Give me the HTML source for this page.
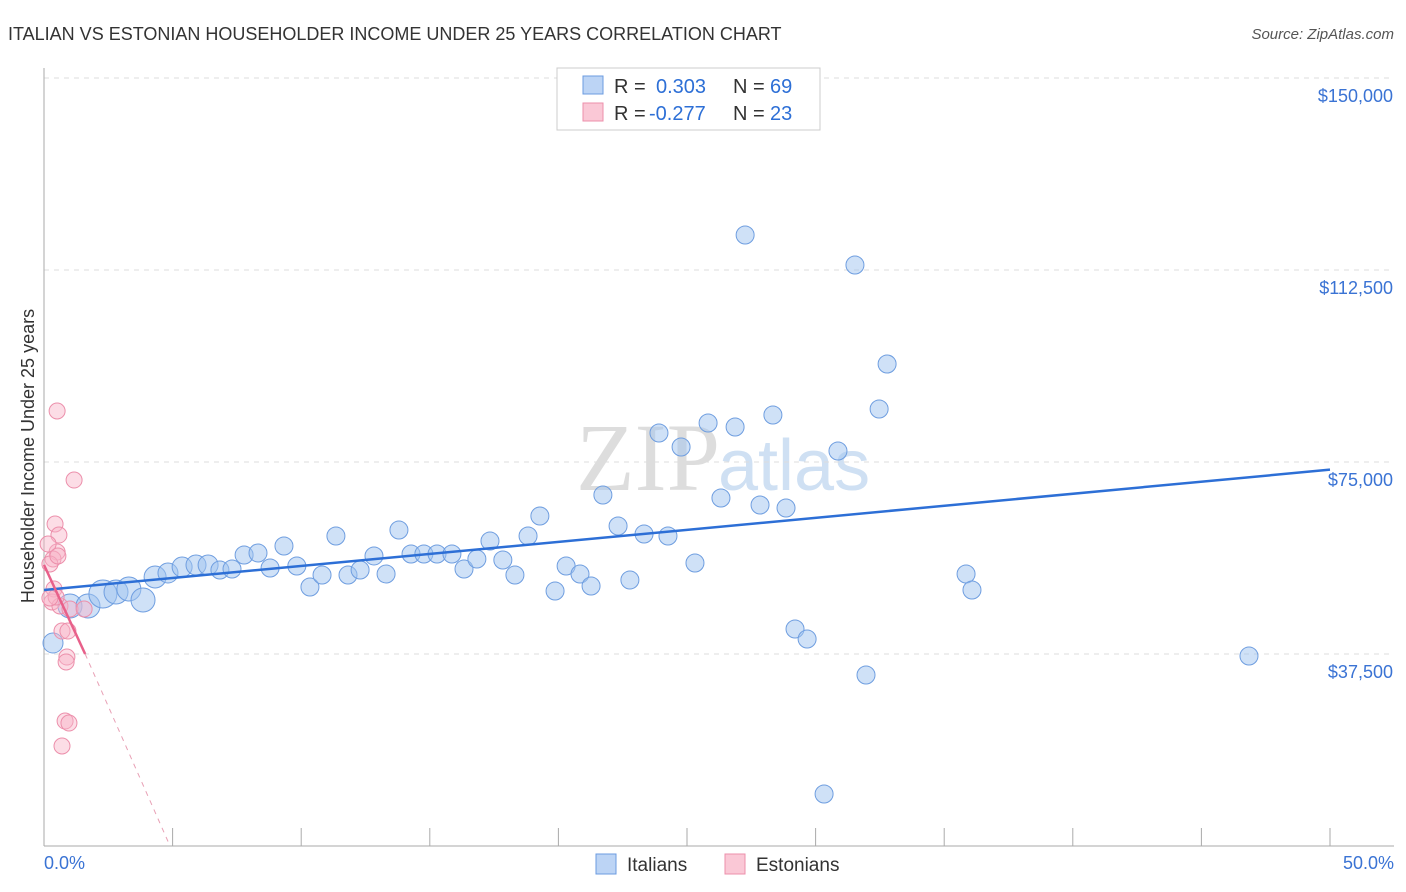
<!DOCTYPE html>
<html><head><meta charset="utf-8"><style>
body{margin:0;background:#fff;font-family:"Liberation Sans",sans-serif;}
svg{display:block}
</style></head><body>
<svg id="c" width="1406" height="892">
<text x="8" y="40" font-size="18" fill="#333">ITALIAN VS ESTONIAN HOUSEHOLDER INCOME UNDER 25 YEARS CORRELATION CHART</text>
<text x="1394" y="39" font-size="15" fill="#555" font-style="italic" text-anchor="end">Source: ZipAtlas.com</text>
<text x="720" y="490" font-size="96" fill="#ddd" font-family="Liberation Serif,serif" text-anchor="end">ZIP</text>
<text x="718" y="490" font-size="72" fill="#cfe0f3">atlas</text>
<g id="grid"></g><g id="axes"></g><g id="pts"></g><g id="trend"></g>
<text transform="translate(34,456) rotate(-90)" font-size="18" fill="#333" text-anchor="middle">Householder Income Under 25 years</text>
<text x="44" y="869" font-size="18" fill="#3a73d4">0.0%</text>
<text x="1394" y="869" font-size="18" fill="#3a73d4" text-anchor="end">50.0%</text>
<g>
<rect x="557" y="68" width="263" height="62" fill="#fff" stroke="#ccc"/>
<rect x="583" y="76" width="20" height="18" fill="#bcd4f5" stroke="#6b9be0"/>
<rect x="583" y="103" width="20" height="18" fill="#fac8d6" stroke="#ec8fab"/>
<text x="614" y="93" font-size="20" fill="#333">R =</text>
<text x="656" y="93" font-size="20" fill="#2d6fd6">0.303</text>
<text x="733" y="93" font-size="20" fill="#333">N =</text>
<text x="770" y="93" font-size="20" fill="#2d6fd6">69</text>
<text x="614" y="120" font-size="20" fill="#333">R =</text>
<text x="649" y="120" font-size="20" fill="#2d6fd6">-0.277</text>
<text x="733" y="120" font-size="20" fill="#333">N =</text>
<text x="770" y="120" font-size="20" fill="#2d6fd6">23</text>
</g>
<g>
<rect x="596" y="854" width="20" height="20" fill="#bcd4f5" stroke="#6b9be0"/>
<text x="627" y="871" font-size="19" fill="#333">Italians</text>
<rect x="725" y="854" width="20" height="20" fill="#fac8d6" stroke="#ec8fab"/>
<text x="756" y="871" font-size="19" fill="#333">Estonians</text>
</g>
</svg>
<script>
const yTicks=[37500,75000,112500,150000];
const yTickLabels=["$37,500","$75,000","$112,500","$150,000"];
const xTicks=[5,10,15,20,25,30,35,40,45,50];
const italiansX=[0.35,1.01,1.71,2.29,2.8,3.3,3.85,4.32,4.82,5.37,5.91,6.38,6.84,7.31,7.78,8.32,8.79,9.33,9.83,10.34,10.81,11.35,11.82,12.29,12.83,13.3,13.8,14.27,14.77,15.28,15.86,16.33,16.83,17.34,17.84,18.31,18.82,19.28,19.87,20.3,20.84,21.27,21.73,22.32,22.78,23.33,23.91,24.26,24.77,25.31,25.82,26.32,26.87,27.26,27.84,28.34,28.85,29.2,29.67,30.33,30.87,31.53,31.96,32.47,32.78,35.85,36.08,46.85];
const italiansY=[39650,46880,46880,49220,49610,50200,48050,52540,53320,54490,54880,54880,53910,54100,56840,57230,54300,58590,54690,50590,52930,60550,52930,53910,56650,53130,61720,57030,57030,57030,57030,54100,56060,59570,55860,52930,60550,64450,49800,54690,53130,50780,68550,62500,51950,60940,80660,60550,77930,55270,82620,67970,81840,119340,66600,84180,66020,42380,40430,10160,77150,113480,33400,85350,94140,53130,50000,37110];
const italiansR=[10,12,12,14,12,12,12,11,10,10,10,10,9,9,9,9,9,9,9,9,9,9,9,9,9,9,9,9,9,9,9,9,9,9,9,9,9,9,9,9,9,9,9,9,9,9,9,9,9,9,9,9,9,9,9,9,9,9,9,9,9,9,9,9,9,9,9,9];
const estoniansX=[0.51,1.17,0.43,0.58,0.51,0.35,0.23,0.39,0.31,0.62,1.01,1.56,0.7,0.93,0.89,0.86,0.82,0.97,0.7,0.16,0.47,0.23,0.54];
const estoniansY=[84960,71480,62890,60740,57420,56060,55080,50200,47660,46880,46290,46290,41990,41990,36910,35940,24410,24020,19530,58980,48630,48440,56640];
const italiansTrend=[[0,50000],[50,73500]];
const estoniansTrend=[[0,54900],[1.6,37500],[4.9,0]];
const X=v=>44+v*25.72, Y=v=>846-v/37500*192;
const NS="http://www.w3.org/2000/svg";
function mk(t,a,p){const e=document.createElementNS(NS,t);for(const k in a)e.setAttribute(k,a[k]);document.getElementById(p).appendChild(e);return e;}
yTicks.forEach((t,i)=>{
 const g=mk('line',{x1:44,x2:1394,y1:Y(t),y2:Y(t),stroke:'#ddd','stroke-dasharray':'5,5'},'grid');
 
 
 const l=mk('text',{x:1393,y:Y(t)+24,'font-size':18,fill:'#3a73d4','text-anchor':'end'},'grid');
 l.textContent=yTickLabels[i];
 
 
});
mk('line',{x1:44,x2:44,y1:68,y2:846,stroke:'#aaa'},'axes');
mk('line',{x1:44,x2:1394,y1:846,y2:846,stroke:'#aaa'},'axes');
xTicks.forEach(t=>{
 const e=mk('line',{x1:X(t),x2:X(t),y1:828,y2:846,stroke:'#aaa'},'axes');
 
 
});
italiansX.forEach((x,i)=>{
 const c=mk('circle',{cx:X(x),cy:Y(italiansY[i]),r:italiansR[i],fill:'rgba(160,196,240,0.5)',stroke:'#6f9ee0','stroke-width':1},'pts');
 
 
});
estoniansX.forEach((x,i)=>{
 const c=mk('circle',{cx:X(x),cy:Y(estoniansY[i]),r:8,fill:'rgba(248,180,200,0.45)',stroke:'#ec8fab','stroke-width':1},'pts');
 
 
});
const bt=mk('line',{x1:X(italiansTrend[0][0]),y1:Y(italiansTrend[0][1]),x2:X(italiansTrend[1][0]),y2:Y(italiansTrend[1][1]),stroke:'#2d6fd6','stroke-width':2.5},'trend');


const pt=mk('line',{x1:X(estoniansTrend[0][0]),y1:Y(estoniansTrend[0][1]),x2:X(estoniansTrend[1][0]),y2:Y(estoniansTrend[1][1]),stroke:'#e8608a','stroke-width':2.5},'trend');


const pd=mk('line',{x1:X(estoniansTrend[1][0]),y1:Y(estoniansTrend[1][1]),x2:X(estoniansTrend[2][0]),y2:Y(estoniansTrend[2][1]),stroke:'#e8a0b5','stroke-width':1,'stroke-dasharray':'5,5'},'trend');


</script>
</body></html>
